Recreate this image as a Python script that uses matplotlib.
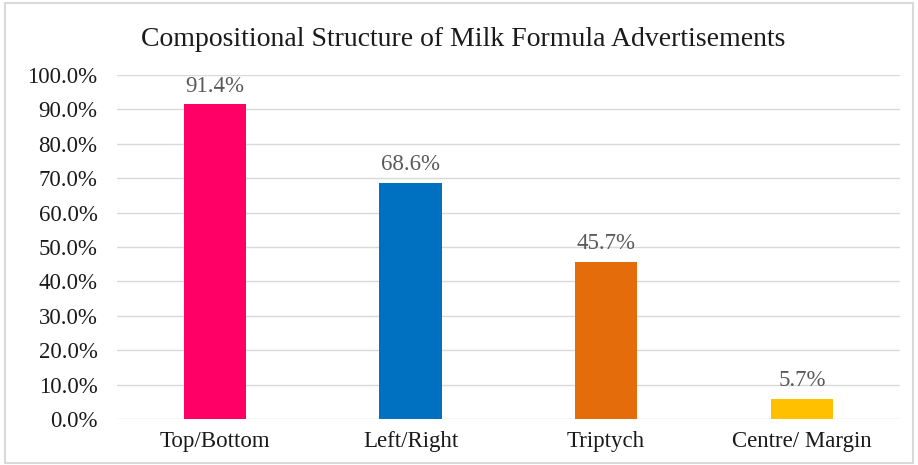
import matplotlib.pyplot as plt
from matplotlib.patches import Rectangle

categories = ['Top/Bottom', 'Left/Right', 'Triptych', 'Centre/ Margin']
shares = [91.4, 68.6, 45.7, 5.7]
colors = ['#FF0066', '#0070C0', '#E46C0A', '#FFC000']

plt.rcParams['font.family'] = ['Liberation Serif', 'DejaVu Serif']

fig = plt.figure(figsize=(9.18, 4.65), dpi=100)
ax = fig.add_axes([0.1275, 0.099, 0.8525, 0.74])

x = range(len(categories))
bars = ax.bar(x, shares, width=0.32, color=colors, zorder=3)

for bar, val in zip(bars, shares):
    ax.text(bar.get_x() + bar.get_width() / 2, val + 2.3, f'{val:.1f}%',
            ha='center', va='bottom', fontsize=16.5, color='#595959')

ax.set_xlim(-0.5, len(categories) - 0.5)
ax.set_ylim(0, 100)
ax.set_yticks(range(0, 101, 10))
ax.set_yticklabels([f'{v:.1f}%' for v in range(0, 101, 10)])
ax.set_xticks(list(x))
ax.set_xticklabels(categories)
ax.tick_params(axis='both', length=0, labelsize=16.5, colors='#1a1a1a')
ax.tick_params(axis='y', pad=14)
ax.tick_params(axis='x', pad=9)
ax.grid(axis='y', color='#d9d9d9', linewidth=1, zorder=0)
for s in ax.spines.values():
    s.set_visible(False)

fig.text(0.505, 0.915, 'Compositional Structure of Milk Formula Advertisements',
         ha='center', va='center', fontsize=20, color='#1a1a1a')

fig.patches.append(Rectangle((0.005, 0.005), 0.99, 0.988, transform=fig.transFigure,
                             fill=False, edgecolor='#d9d9d9', linewidth=1.5))

fig.savefig('out.png', dpi=100)
